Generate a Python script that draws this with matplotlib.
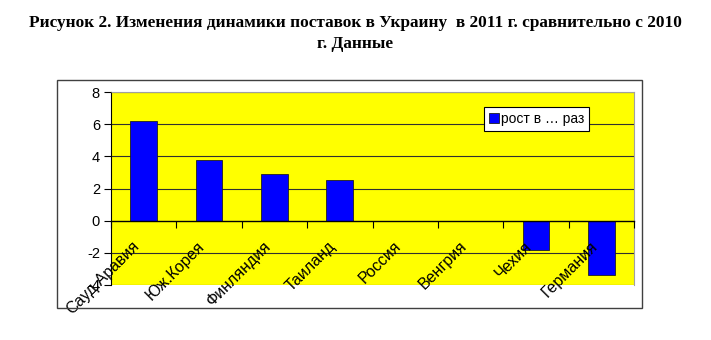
import matplotlib
matplotlib.use("Agg")
import numpy as np
from matplotlib import pyplot as plt
from matplotlib.patches import Rectangle

TITLE_LINES = ["Рисунок 2. Изменения динамики поставок в Украину  в 2011 г. сравнительно с 2010",
               "г. Данные"]
COUNTRIES = ["Сауд.Аравия", "Юж.Корея", "Финляндия", "Таиланд",
             "Россия", "Венгрия", "Чехия", "Германия"]
GROWTH = [6.2, 3.8, 2.9, 2.5, 0.0, 0.0, -1.85, -3.35]
SERIES_NAME = "рост в … раз"
Y_TICKS = [-4, -2, 0, 2, 4, 6, 8]

fig = plt.figure(figsize=(7.11, 3.40), dpi=100)

# outer chart frame
fig.patches.append(Rectangle((57 / 711, 1 - 308 / 340), 585 / 711, 228 / 340,
                             transform=fig.transFigure, fill=False,
                             edgecolor="#404040", linewidth=1.0))

for i, line in enumerate(TITLE_LINES):
    fig.text(0.5, 1 - (23 + 21 * i) / 340, line, ha="center", va="center",
             family="Liberation Serif", weight="bold", fontsize=12.4)

ax = fig.add_axes([111 / 711, 1 - 285 / 340, 523 / 711, 193 / 340])
ax.set_facecolor("#FFFF00")
ax.set_axisbelow(False)

x = np.arange(len(COUNTRIES))
ax.bar(x, GROWTH, width=0.41, color="#0000FF", edgecolor="#202020",
       linewidth=0.6, label=SERIES_NAME, zorder=2)

ax.set_xlim(-0.5, len(COUNTRIES) - 0.5)
ax.set_ylim(-4, 8)
ax.set_yticks(Y_TICKS)
ax.set_yticklabels([str(v) for v in Y_TICKS], family="Liberation Sans", fontsize=10.5)

for v in Y_TICKS:
    if v != 0:
        ax.axhline(v, color="#303030", linewidth=0.8, zorder=1)

ax.spines["bottom"].set_position(("data", 0))
ax.spines["bottom"].set_color("black")
ax.spines["bottom"].set_linewidth(1.0)
ax.spines["left"].set_color("black")
for s in ["top", "right"]:
    ax.spines[s].set_color("#a0a0a0")

# tick marks at category boundaries, labels placed by hand
ax.set_xticks(np.arange(-0.5, len(COUNTRIES)))
ax.set_xticklabels([])
ax.tick_params(axis="x", direction="out", length=5, color="black")
ax.tick_params(axis="y", direction="out", length=5, color="black", pad=3)

for xi, name in zip(x, COUNTRIES):
    ax.annotate(name, (xi, 0), xytext=(-8.5, -13), textcoords="offset points",
                rotation=45, ha="right", va="top", rotation_mode="anchor",
                family="Liberation Sans", fontsize=11.5, zorder=5,
                annotation_clip=False)

leg = ax.legend(loc="center left", bbox_to_anchor=(373 / 523, 1 - 27 / 193),
                prop={"family": "Liberation Sans", "size": 10},
                frameon=True, fancybox=False, handlelength=0.7, handleheight=0.7,
                handletextpad=0.2, borderpad=0.35, borderaxespad=0)
leg.get_frame().set_edgecolor("black")
leg.get_frame().set_linewidth(0.8)
leg.get_frame().set_facecolor("white")
leg.get_frame().set_alpha(1)

fig.savefig("out.png", dpi=100)
